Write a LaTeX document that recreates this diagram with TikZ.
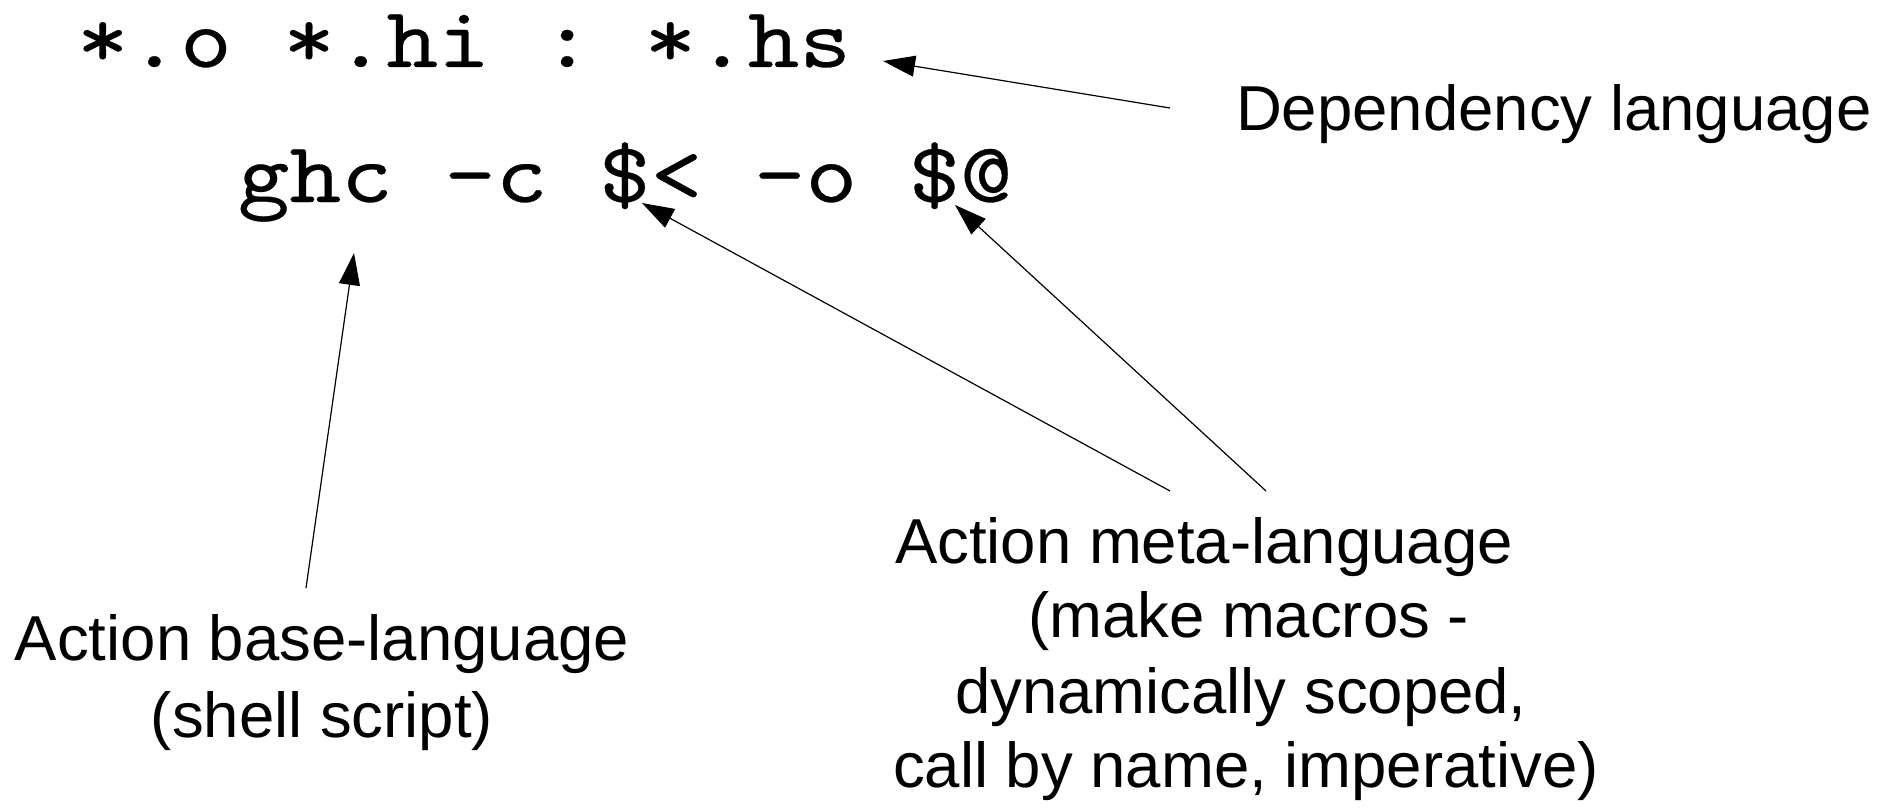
\documentclass[tikz,border=0pt]{standalone}
\usepackage{fontspec}
\setmainfont{Liberation Sans}
\newfontfamily\codefont[FakeStretch=1.143, FakeBold=0.35]{lmmono10-regular.otf}
\usetikzlibrary{arrows.meta}
% monospaced code text: every space exactly one character cell wide
\newcommand{\codesetup}{\codefont\fontsize{86bp}{90bp}\selectfont
  \fontdimen2\font=51.6bp\fontdimen3\font=0pt\fontdimen4\font=0pt\relax\frenchspacing}
\begin{document}
\begin{tikzpicture}[x=1bp, y=-1bp,
  code/.style={font=\codesetup, inner sep=0pt, outer sep=0pt},
  note/.style={font=\fontsize{63.5bp}{76bp}\selectfont, inner sep=0pt, outer sep=0pt},
  pointer/.style={-{Triangle[length=32bp, width=21bp]}, line width=1.2bp}]
  \useasboundingbox (0,0) rectangle (1899,812);

  % the make rule and its action line
  \node[code, anchor=base] (rule) at (464,67) {*.o *.hi : *.hs};
  \node[code, anchor=base] (cmd) at (625,202) {ghc -c \$< -o \$@};

  % explanatory notes
  \node[note, anchor=base west] (dep) at (1236,130) {Dependency language};
  \node[note, anchor=base] (baseA) at (322,660) {Action base-language};
  \node[note, anchor=base] (baseB) at (322,737) {(shell script)};
  \node[note, anchor=base west] (metaA) at (895,563) {Action meta-language};
  \node[note, anchor=base west] (metaB) at (1028,637) {(make macros -};
  \node[note, anchor=base west] (metaC) at (955,713) {dynamically scoped,};
  \node[note, anchor=base west] (metaD) at (893,787) {call by name, imperative)};

  % pointer ends
  \coordinate (depTail) at (1170,108);
  \coordinate (depTip) at (883,61);
  \coordinate (baseTail) at (306,588);
  \coordinate (baseTip) at (354,253);
  \coordinate (inTail) at (1170,491);
  \coordinate (inTip) at (642,203);
  \coordinate (outTail) at (1266,491);
  \coordinate (outTip) at (955,205);

  \draw[pointer] (depTail) -- (depTip);
  \draw[pointer] (baseTail) -- (baseTip);
  \draw[pointer] (inTail) -- (inTip);
  \draw[pointer] (outTail) -- (outTip);
\end{tikzpicture}
\end{document}
